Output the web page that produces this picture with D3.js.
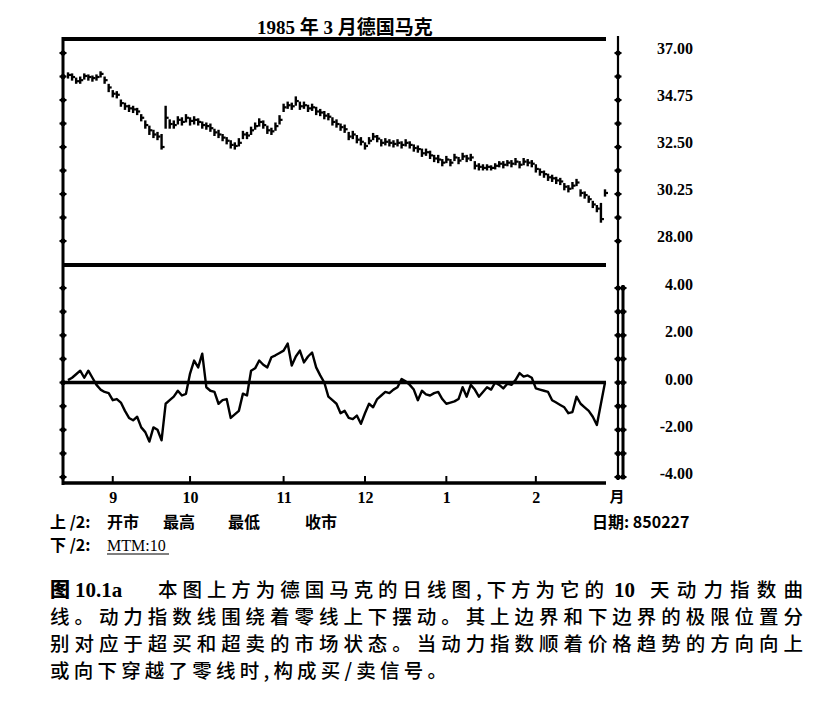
<!DOCTYPE html>
<html><head><meta charset="utf-8">
<script src="https://cdn.jsdelivr.net/npm/d3@7"></script>
<style>body{margin:0;background:#fff} svg{display:block}</style>
</head><body><svg id="c" width="839" height="708"></svg>
<script>
// ---- data ----
const closes=[35.95,35.85,35.65,35.7,35.9,35.85,35.8,35.85,36.0,35.7,
35.35,35.05,35.0,34.6,34.45,34.35,34.3,34.2,33.9,33.55,
33.3,33.1,33.0,32.5,33.9,33.6,33.55,33.8,33.7,33.9,
33.75,33.8,33.7,33.55,33.5,33.4,33.2,33.1,32.95,32.8,
32.6,32.55,32.7,33.1,33.05,33.3,33.5,33.7,33.55,33.3,
33.25,33.5,33.8,34.4,34.5,34.45,34.7,34.45,34.5,34.35,
34.4,34.2,34.15,34.0,33.95,33.7,33.6,33.45,33.35,33.0,
33.1,32.85,32.75,32.55,32.8,33.0,32.9,32.7,32.75,32.7,
32.65,32.7,32.6,32.7,32.6,32.45,32.4,32.2,32.25,32.1,
31.95,31.9,31.75,31.9,31.75,32.0,31.85,32.05,31.95,32.0,
31.6,31.55,31.5,31.55,31.5,31.6,31.7,31.65,31.75,31.7,
31.8,31.65,31.8,31.75,31.7,31.45,31.3,31.2,31.05,31.0,
30.9,30.85,30.6,30.5,30.65,30.8,30.3,30.2,30.0,29.75,
29.55,29.05,30.3];
const highs=[36.05,36.0,35.8,35.85,36.0,35.95,35.9,35.95,36.1,35.85,
35.5,35.2,35.15,34.75,34.6,34.5,34.45,34.35,34.05,33.75,
33.5,33.3,33.2,33.1,34.45,33.8,33.75,33.95,33.9,34.05,
33.9,33.95,33.85,33.7,33.65,33.6,33.35,33.3,33.1,32.95,
32.8,32.7,32.9,33.25,33.2,33.45,33.65,33.85,33.75,33.5,
33.4,33.65,34.0,34.55,34.65,34.6,34.9,34.65,34.65,34.5,
34.55,34.4,34.3,34.2,34.1,33.9,33.8,33.6,33.55,33.2,
33.25,33.05,32.95,32.7,32.95,33.15,33.05,32.85,32.9,32.85,
32.8,32.85,32.75,32.85,32.75,32.6,32.55,32.4,32.4,32.3,
32.1,32.1,31.9,32.05,31.9,32.15,32.0,32.2,32.1,32.15,
31.8,31.7,31.65,31.65,31.6,31.7,31.8,31.8,31.85,31.85,
31.95,31.8,31.95,31.9,31.85,31.65,31.45,31.35,31.2,31.15,
31.05,31.0,30.75,30.65,30.8,30.95,30.45,30.35,30.15,29.9,
29.7,29.8,30.45];
const lows=[35.8,35.7,35.55,35.55,35.75,35.7,35.65,35.7,35.85,35.55,
35.15,34.9,34.85,34.45,34.3,34.2,34.15,34.05,33.75,33.4,
33.1,32.95,32.85,32.4,33.4,33.4,33.4,33.6,33.55,33.7,
33.55,33.6,33.55,33.4,33.35,33.25,33.05,32.95,32.8,32.65,
32.45,32.4,32.55,32.9,32.9,33.1,33.35,33.5,33.4,33.15,
33.1,33.3,33.6,34.2,34.35,34.3,34.5,34.3,34.35,34.2,
34.25,34.05,34.0,33.85,33.8,33.55,33.45,33.3,33.2,32.85,
32.9,32.7,32.6,32.4,32.65,32.85,32.75,32.55,32.6,32.55,
32.5,32.55,32.45,32.55,32.45,32.3,32.25,32.05,32.1,31.95,
31.8,31.75,31.6,31.75,31.6,31.85,31.7,31.9,31.8,31.85,
31.45,31.4,31.4,31.4,31.4,31.45,31.55,31.5,31.6,31.55,
31.65,31.5,31.65,31.6,31.55,31.3,31.15,31.05,30.9,30.85,
30.75,30.7,30.45,30.35,30.5,30.65,30.15,30.05,29.85,29.6,
29.4,28.9,30.15];
const mtm=[0.1,0.2,0.35,0.5,0.2,0.5,0.2,-0.1,-0.3,-0.4,
-0.45,-0.75,-0.7,-0.85,-1.2,-1.5,-1.6,-1.45,-1.9,-2.1,
-2.5,-1.9,-2.0,-2.45,-0.9,-0.75,-0.6,-0.35,-0.55,-0.48,
0.38,0.93,0.64,1.22,-0.2,-0.35,-0.4,-0.9,-0.75,-0.7,
-1.5,-1.35,-1.2,-0.47,-0.55,0.5,0.6,0.93,0.75,0.64,
1.07,1.15,1.25,1.35,1.65,0.72,1.1,1.35,0.85,1.1,
1.27,0.64,0.3,0.0,-0.6,-0.75,-0.9,-1.3,-1.2,-1.5,
-1.55,-1.4,-1.75,-1.3,-0.9,-1.05,-0.7,-0.55,-0.4,-0.45,
-0.3,-0.2,0.15,0.05,-0.1,-0.3,-0.75,-0.35,-0.5,-0.55,
-0.45,-0.4,-0.7,-0.9,-0.85,-0.8,-0.7,-0.2,-0.6,-0.1,
-0.3,-0.6,-0.4,-0.2,-0.3,0.0,-0.1,-0.25,-0.05,-0.1,
0.1,0.4,0.25,0.3,0.2,-0.25,-0.3,-0.35,-0.4,-0.75,
-0.85,-0.95,-1.05,-1.3,-1.25,-0.6,-0.9,-1.05,-1.2,-1.45,
-1.8,-0.9,0.0];
const monthLabels=["9","10","11","12","1","2"];
const monthStarts=[11,30,53,73,93,115];
const priceTicks=[37,35.875,34.75,33.625,32.5,31.375,30.25,29.125,28];
const priceLabels=["37.00","","34.75","","32.50","","30.25","","28.00"];
const mtmTicks=[4,3,2,1,0,-1,-2,-3,-4];
const mtmLabels=["4.00","","2.00","","0.00","","-2.00","","-4.00"];
const title="1985 年 3 月德国马克";

// ---- drawing ----
const svg=d3.select("#c");
svg.append("rect").attr("width",839).attr("height",708).attr("fill","#fff");
const serif="'Liberation Serif','DejaVu Serif',serif";
const cjk="'Noto Sans CJK SC','Noto Sans',sans-serif";

const x=d3.scaleLinear().domain([0,closes.length-1]).range([68,605]);
const yP=d3.scaleLinear().domain([28,37]).range([241,53]);
const yM=d3.scaleLinear().domain([-4,4]).range([477,288]);

const L=63, R=606, AX=618;
function hline(y,x1,x2,w){svg.append("line").attr("x1",x1).attr("x2",x2).attr("y1",y).attr("y2",y).attr("stroke","#000").attr("stroke-width",w);}
function vline(xx,y1,y2,w){svg.append("line").attr("x1",xx).attr("x2",xx).attr("y1",y1).attr("y2",y2).attr("stroke","#000").attr("stroke-width",w);}

// frame lines
hline(39,L,R,4);
hline(265,L,R,4);
hline(483,L,R,3.5);
vline(L,37,485,3);
vline(AX,36,480,2.2);
vline(623,285,478,3);

// tick marks with dots
function ticks(xx,vals,scale){
  const g=svg.append("g");
  vals.forEach(v=>{
    const yy=scale(v);
    g.append("line").attr("x1",xx-3.5).attr("x2",xx+3.5).attr("y1",yy).attr("y2",yy).attr("stroke","#000").attr("stroke-width",2);
    g.append("circle").attr("cx",xx).attr("cy",yy).attr("r",2.6).attr("fill","#000");
  });
}
ticks(L,priceTicks,yP); ticks(L,mtmTicks,yM);
ticks(AX,priceTicks,yP); ticks(AX,mtmTicks,yM);
ticks(623,mtmTicks,yM);

// right axis labels via d3 axes
const axP=d3.axisRight(yP).tickValues(priceTicks).tickSize(0).tickFormat((d,i)=>priceLabels[i]);
const gP=svg.append("g").attr("transform",`translate(${AX},0)`).call(axP);
const axM=d3.axisRight(yM).tickValues(mtmTicks).tickSize(0).tickFormat((d,i)=>mtmLabels[i]);
const gM=svg.append("g").attr("transform",`translate(${AX},0)`).call(axM);
[gP,gM].forEach(g=>{
  g.select(".domain").remove();
  g.selectAll("text").attr("x",75).attr("dy","0.32em").attr("text-anchor","end")
   .attr("font-family",serif).attr("font-weight","bold").attr("font-size",16).attr("fill","#000");
});
gP.selectAll("text").attr("transform","translate(0,-5)");
gM.selectAll("text").attr("transform","translate(0,-3.5)");

// month axis
const axX=d3.axisBottom(x).tickValues(monthStarts).tickSize(0).tickFormat((d,i)=>monthLabels[i]);
const gX=svg.append("g").attr("transform","translate(0,483)").call(axX);
gX.select(".domain").remove();
gX.selectAll("text").attr("y",20).attr("dy",0).attr("font-family",serif).attr("font-weight","bold").attr("font-size",16).attr("fill","#000");
monthStarts.forEach(m=>{vline(x(m),476,483,2);});
svg.append("text").attr("x",617).attr("y",502).attr("text-anchor","middle").attr("font-family",cjk).attr("font-weight","bold").attr("font-size",15).text("月");

// price bars
const bars=svg.append("g");
closes.forEach((c,i)=>{
  const xx=x(i);
  bars.append("line").attr("x1",xx).attr("x2",xx).attr("y1",yP(highs[i])-0.5).attr("y2",yP(lows[i])+0.5).attr("stroke","#000").attr("stroke-width",2.4);
  bars.append("line").attr("x1",xx).attr("x2",xx+3).attr("y1",yP(c)).attr("y2",yP(c)).attr("stroke","#000").attr("stroke-width",2.2);
});

// zero line
hline(yM(0),L,R,3.5);
// mtm line
svg.append("path").datum(mtm)
  .attr("d",d3.line().x((d,i)=>x(i)).y(d=>yM(d)))
  .attr("fill","none").attr("stroke","#000").attr("stroke-width",2.4).attr("stroke-linejoin","round");

// title
svg.append("text").attr("x",345).attr("y",34).attr("text-anchor","middle")
  .attr("font-family",serif+",'Noto Sans CJK SC'").attr("font-weight","bold").attr("font-size",19).text(title);

// legend rows
function txt(xx,yy,s,opt={}){
  return svg.append("text").attr("x",xx).attr("y",yy).attr("font-family",opt.f||cjk)
   .attr("font-weight",opt.w||"bold").attr("font-size",opt.s||16).attr("fill","#000").text(s);
}
txt(50,528,"上 /2:");
txt(107,528,"开市"); txt(163,528,"最高"); txt(228,528,"最低"); txt(305,528,"收市");
txt(592,528,"日期: 850227");
txt(50,551,"下 /2:");
txt(107,551,"MTM:10",{f:serif,w:"normal",s:16});
hline(554,107,169,1.2);

// caption
const cs=19.5;
txt(50,597,"图",{s:20,w:900});
txt(75,597,"10.1a",{f:serif,s:21,w:"bold"});
txt(158,597,"本图上方为德国马克的日线图,下方为它的",{s:cs,w:500}).attr("textLength",446).attr("lengthAdjust","spacing");
txt(614,597,"10",{f:serif,s:21,w:"bold"});
txt(650,597,"天动力指数曲",{s:cs,w:500}).attr("textLength",153).attr("lengthAdjust","spacing");
txt(50,624,"线。动力指数线围绕着零线上下摆动。其上边界和下边界的极限位置分",{s:cs,w:500}).attr("textLength",753).attr("lengthAdjust","spacing");
txt(50,651,"别对应于超买和超卖的市场状态。当动力指数顺着价格趋势的方向向上",{s:cs,w:500}).attr("textLength",753).attr("lengthAdjust","spacing");
txt(50,678,"或向下穿越了零线时,构成买/卖信号。",{s:cs,w:500}).attr("textLength",397).attr("lengthAdjust","spacing");
</script></body></html>
